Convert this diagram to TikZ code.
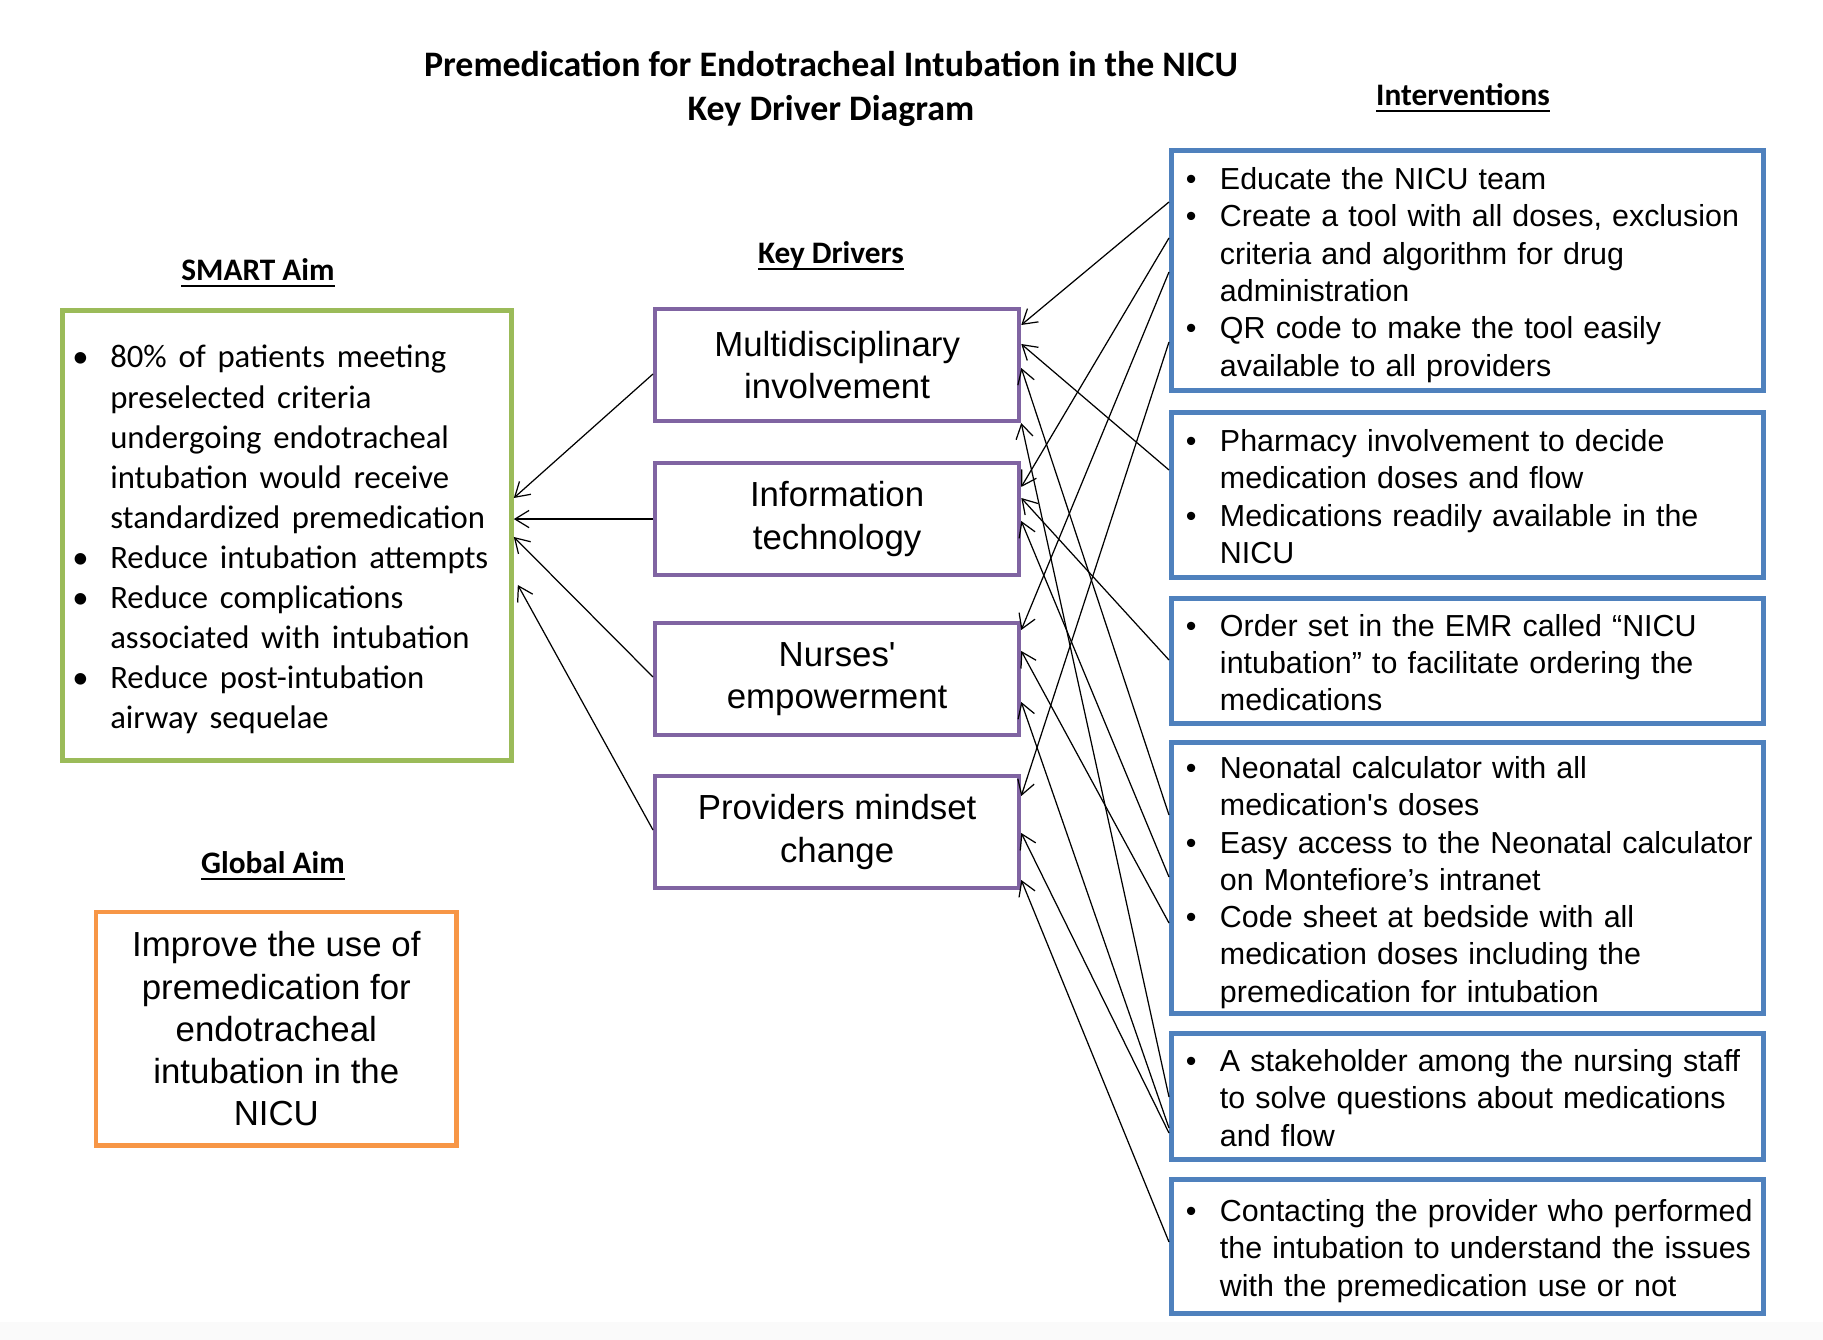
\documentclass[tikz,border=0pt]{standalone}
\usepackage{fontspec}
\setmainfont{Liberation Sans}
\newfontfamily\calibri{Carlito}
\usetikzlibrary{positioning, calc, arrows.meta}

\definecolor{aimgreen}{HTML}{9BBB59}
\definecolor{drvpurple}{HTML}{8064A2}
\definecolor{ivblue}{HTML}{4F81BD}
\definecolor{goalorange}{HTML}{F79646}

\newsavebox{\blbox}
\newcommand{\hdrline}[1]{\setbox0\hbox{#1}\rlap{\rule[-1.9pt]{\wd0}{0.75pt}}\box0}
\newenvironment{blist}[1]{\begin{lrbox}{\blbox}\begin{tabular}{@{}p{#1}@{}l@{}}}{\end{tabular}\end{lrbox}\raisebox{-1.4pt}[\height][\depth]{\usebox{\blbox}}}

\begin{document}
\begin{tikzpicture}[x=0.01cm, y=-0.01cm,
    box/.style={draw, rectangle, anchor=north west, inner ysep=0pt},
    hdr/.style={font=\calibri\bfseries\fontsize{8.9}{11}\selectfont, inner sep=0pt, align=center},
    aimbox/.style={box, draw=aimgreen, line width=1.3pt, minimum width=4.49cm, minimum height=4.50cm, text width=4.29cm, inner xsep=0.10cm},
    drvbox/.style={box, draw=drvpurple, line width=1.15pt, minimum width=3.64cm, minimum height=1.12cm, align=center, font=\fontsize{9.9}{12}\selectfont, execute at begin node={\rule{0pt}{10.6pt}}},
    goalbox/.style={box, draw=goalorange, line width=1.25pt, minimum width=3.60cm, minimum height=2.33cm, align=center, font=\fontsize{9.9}{12}\selectfont},
    ivbox/.style={box, draw=ivblue, line width=1.4pt, minimum width=5.92cm, text width=5.634cm, inner xsep=0.143cm, font=\fontsize{8.65}{10.6}\selectfont},
    link/.style={-{Straight Barb[length=4pt, width=4.9pt]}, line width=0.35pt}]

    \useasboundingbox (0,0) rectangle (1823,1340);
    \fill[black!2] (0,1322) rectangle (1823,1340);

    \node[hdr, font=\calibri\bfseries\fontsize{10.2}{12.5}\selectfont] (ttl) at (831,89) {Premedication for Endotracheal Intubation in the NICU\\Key Driver Diagram};
    \node[hdr] (ivhdr) at (1463,98) {\hdrline{Interventions}};
    \node[hdr] (drvhdr) at (831,256) {\hdrline{Key Drivers}};
    \node[hdr] (aimhdr) at (258,273) {\hdrline{SMART Aim}};
    \node[hdr] (goalhdr) at (273,866) {\hdrline{Global Aim}};

    \node[aimbox] (smart) at (60,308) {\calibri\fontsize{9.3}{11.4}\selectfont
        \begin{blist}{0.38cm}
        \textbullet & 80\% of patients meeting\\
        & preselected criteria\\
        & undergoing endotracheal\\
        & intubation would receive\\
        & standardized premedication\\
        \textbullet & Reduce intubation attempts\\
        \textbullet & Reduce complications\\
        & associated with intubation\\
        \textbullet & Reduce post-intubation\\
        & airway sequelae
        \end{blist}};

    \node[goalbox] (goal) at (94,910) {Improve the use of\\premedication for\\endotracheal\\intubation in the\\NICU};

    \node[drvbox] (md) at (653,307) {Multidisciplinary\\involvement};
    \node[drvbox] (it) at (653,461) {Information\\technology};
    \node[drvbox] (nurses) at (653,621) {Nurses\textquotesingle\\empowerment};
    \node[drvbox] (prov) at (653,774) {Providers mindset\\change};

    \node[ivbox, minimum height=2.40cm] (iv1) at (1169,148) {\begin{blist}{0.342cm}
        \textbullet & Educate the NICU team\\
        \textbullet & Create a tool with all doses, exclusion\\
        & criteria and algorithm for drug\\
        & administration\\
        \textbullet & QR code to make the tool easily\\
        & available to all providers
        \end{blist}};
    \node[ivbox, minimum height=1.65cm] (iv2) at (1169,410) {\begin{blist}{0.342cm}
        \textbullet & Pharmacy involvement to decide\\
        & medication doses and flow\\
        \textbullet & Medications readily available in the\\
        & NICU
        \end{blist}};
    \node[ivbox, minimum height=1.25cm] (iv3) at (1169,596) {\begin{blist}{0.342cm}
        \textbullet & Order set in the EMR called “NICU\\
        & intubation” to facilitate ordering the\\
        & medications
        \end{blist}};
    \node[ivbox, minimum height=2.71cm] (iv4) at (1169,740) {\begin{blist}{0.342cm}
        \textbullet & Neonatal calculator with all\\
        & medication\textquotesingle s doses\\
        \textbullet & Easy access to the Neonatal calculator\\
        & on Montefiore’s intranet\\
        \textbullet & Code sheet at bedside with all\\
        & medication doses including the\\
        & premedication for intubation
        \end{blist}};
    \node[ivbox, minimum height=1.26cm] (iv5) at (1169,1031) {\begin{blist}{0.342cm}
        \textbullet & A stakeholder among the nursing staff\\
        & to solve questions about medications\\
        & and flow
        \end{blist}};
    \node[ivbox, minimum height=1.34cm] (iv6) at (1169,1177) {\begin{blist}{0.342cm}
        \textbullet & Contacting the provider who performed\\
        & the intubation to understand the issues\\
        & with the premedication use or not
        \end{blist}};

    \draw[link] ($(md.north west)+(0,67)$) -- ($(smart.north east)+(0,190)$);
    \draw[link] (it.west) -- (it.west -| smart.east);
    \draw[link] ($(nurses.north west)+(0,56)$) -- ($(smart.north east)+(0,229)$);
    \draw[link] ($(prov.north west)+(0,56)$) -- ($(smart.north east)+(4,277)$);

    \draw[link] ($(iv1.north west)+(0,54)$) -- ($(md.north east)+(0,18)$);
    \draw[link] ($(iv1.north west)+(0,90)$) -- ($(it.north east)+(0,26)$);
    \draw[link] ($(iv1.north west)+(0,124)$) -- ($(nurses.north east)+(0,9)$);
    \draw[link] ($(iv1.north west)+(0,194)$) -- ($(prov.north east)+(0,22)$);
    \draw[link] ($(iv2.north west)+(0,60)$) -- ($(md.north east)+(0,37)$);
    \draw[link] ($(iv3.north west)+(0,64)$) -- ($(it.north east)+(0,37)$);
    \draw[link] ($(iv4.north west)+(0,75)$) -- ($(md.north east)+(0,61)$);
    \draw[link] ($(iv4.north west)+(0,137)$) -- ($(it.north east)+(0,60)$);
    \draw[link] ($(iv4.north west)+(0,183)$) -- ($(nurses.north east)+(0,30)$);
    \draw[link] ($(iv5.north west)+(0,66)$) -- ($(md.north east)+(0,116)$);
    \draw[link] ($(iv5.north west)+(0,97)$) -- ($(nurses.north east)+(0,81)$);
    \draw[link] ($(iv5.north west)+(0,102)$) -- ($(prov.north east)+(0,59)$);
    \draw[link] ($(iv6.north west)+(0,65)$) -- ($(prov.north east)+(0,106)$);

\end{tikzpicture}
\end{document}
